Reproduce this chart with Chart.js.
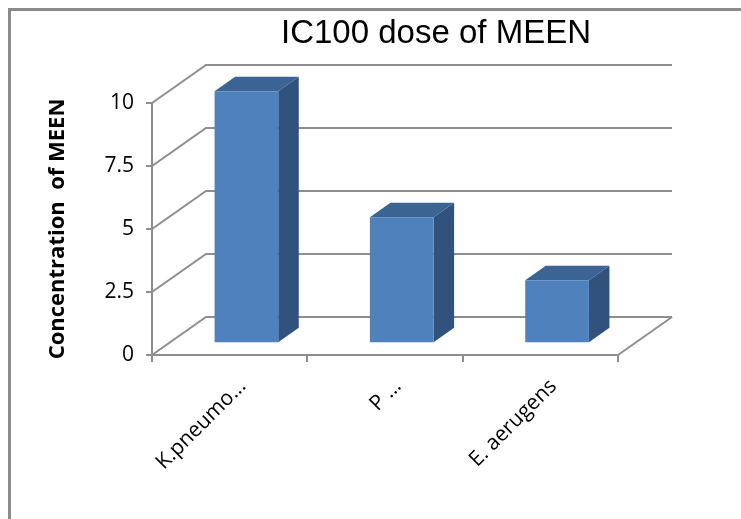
<!DOCTYPE html>
<html>
<head>
<meta charset="utf-8">
<title>IC100 dose of MEEN</title>
<script src="https://cdn.jsdelivr.net/npm/chart.js@4.4.1/dist/chart.umd.min.js"></script>
<style>
  html, body { margin: 0; padding: 0; background: #fff; }
  #wrap { width: 741px; height: 519px; }
</style>
</head>
<body>
<div id="wrap"><canvas id="chart"></canvas></div>
<script>
// data
const categories = ["K.pneumo...", "P ...", "E. aerugens"];
const ic100Values = [10, 5, 2.5];
const yTickValues = [0, 2.5, 5, 7.5, 10];
const chartTitle = "IC100 dose of MEEN";

// 3d look, in pixels
const DEPTH_X = 54;
const DEPTH_Y = 38;
const BAR_FRONT = 0.31;
const BAR_BACK = 0.69;
const gridColor = "#8e8e8e";

function poly(ctx, pts, color) {
  ctx.beginPath();
  ctx.moveTo(pts[0][0], pts[0][1]);
  for (let i = 1; i < pts.length; i++) ctx.lineTo(pts[i][0], pts[i][1]);
  ctx.closePath();
  ctx.fillStyle = color;
  ctx.fill();
}

const box3d = {
  id: "box3d",
  beforeDraw(chart) {
    const ctx = chart.ctx;
    ctx.save();
    // outer frame
    ctx.strokeStyle = "#8a8a8a";
    ctx.lineWidth = 3;
    ctx.beginPath();
    ctx.moveTo(9.5, chart.height);
    ctx.lineTo(9.5, 9.5);
    ctx.lineTo(chart.width, 9.5);
    ctx.stroke();
    // title sits over the 3d box, not the canvas centre
    const a = chart.chartArea;
    ctx.fillStyle = "#000";
    ctx.font = "33px 'Liberation Sans', Arial, sans-serif";
    ctx.textAlign = "center";
    ctx.textBaseline = "middle";
    ctx.fillText(chartTitle, (a.left + a.right + DEPTH_X) / 2 + 24, 34);
    ctx.restore();
  },
  beforeDatasetsDraw(chart) {
    const { ctx, chartArea: a } = chart;
    const y = chart.scales.y;
    ctx.save();
    ctx.strokeStyle = gridColor;
    ctx.lineWidth = 2;
    y.ticks.forEach((t) => {
      const py = y.getPixelForValue(t.value);
      ctx.beginPath();
      ctx.moveTo(a.left, py);
      ctx.lineTo(a.left + DEPTH_X, py - DEPTH_Y);
      ctx.lineTo(a.right + DEPTH_X, py - DEPTH_Y);
      ctx.stroke();
    });
    // right edge of the floor
    ctx.beginPath();
    ctx.moveTo(a.right, a.bottom);
    ctx.lineTo(a.right + DEPTH_X, a.bottom - DEPTH_Y);
    ctx.stroke();
    ctx.restore();
  },
  afterDatasetsDraw(chart) {
    const ctx = chart.ctx;
    const ox = BAR_FRONT * DEPTH_X;
    const oy = -BAR_FRONT * DEPTH_Y;
    const dx = (BAR_BACK - BAR_FRONT) * DEPTH_X;
    const dy = -(BAR_BACK - BAR_FRONT) * DEPTH_Y;
    ctx.save();
    chart.getDatasetMeta(0).data.forEach((bar) => {
      const p = bar.getProps(["x", "y", "base", "width"], true);
      const l = p.x - p.width / 2 + ox;
      const r = p.x + p.width / 2 + ox;
      const t = p.y + oy;
      const b = p.base + oy;
      poly(ctx, [[r, t], [r + dx, t + dy], [r + dx, b + dy], [r, b]], "#30527c");
      poly(ctx, [[l, t], [l + dx, t + dy], [r + dx, t + dy], [r, t]], "#3b6393");
      poly(ctx, [[l, t], [r, t], [r, b], [l, b]], "#4f81bd");
    });
    ctx.restore();
  },
};

Chart.defaults.font.family = "'Open Sans', sans-serif";
Chart.defaults.color = "#000";

new Chart(document.getElementById("chart"), {
  type: "bar",
  data: {
    labels: categories,
    datasets: [
      {
        label: "Concentration of MEEN",
        data: ic100Values,
        backgroundColor: "rgba(0,0,0,0)",
        borderWidth: 0,
        barPercentage: 0.41,
        categoryPercentage: 1,
      },
    ],
  },
  options: {
    responsive: true,
    maintainAspectRatio: false,
    animation: false,
    layout: { padding: { left: 0, right: 123, top: 103, bottom: 0 } },
    plugins: {
      legend: { display: false },
      tooltip: { enabled: false },
      title: { display: false },
    },
    scales: {
      x: {
        grid: {
          offset: true,
          drawOnChartArea: false,
          color: gridColor,
          lineWidth: 2,
          tickLength: 7,
        },
        border: { color: gridColor, width: 2 },
        ticks: {
          minRotation: 45,
          maxRotation: 45,
          padding: 12,
          labelOffset: 13,
          font: { size: 21 },
        },
        afterFit: (s) => { s.height = 164; },
      },
      y: {
        min: 0,
        max: 10,
        afterBuildTicks: (s) => { s.ticks = yTickValues.map((v) => ({ value: v })); },
        grid: {
          drawOnChartArea: false,
          color: gridColor,
          lineWidth: 2,
          tickLength: 6,
        },
        border: { color: gridColor, width: 2 },
        ticks: { padding: 12, font: { size: 21 } },
        title: {
          display: true,
          text: "Concentration  of MEEN",
          font: { size: 22, weight: "bold" },
          padding: { top: 45, bottom: 0 },
        },
        afterFit: (s) => { s.width = 152; },
      },
    },
  },
  plugins: [box3d],
});
</script>
</body>
</html>
